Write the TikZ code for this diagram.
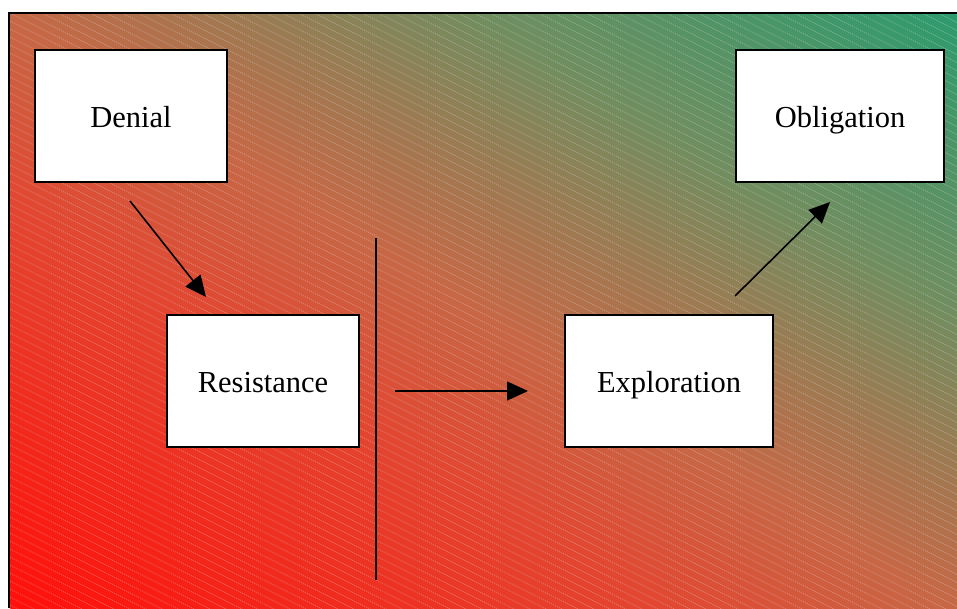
\documentclass[tikz,border=0pt]{standalone}
\usepackage{fontspec}
\setmainfont{Liberation Serif}
\usetikzlibrary{arrows.meta}
\definecolor{bgred}{RGB}{255,15,10}
\definecolor{bgrtwo}{RGB}{225,72,50}
\definecolor{bgmid}{RGB}{198,104,70}
\definecolor{bgolive}{RGB}{112,142,96}
\definecolor{bggreen}{RGB}{45,155,110}
\pgfdeclarehorizontalshading{bgdiag}{100bp}{color(0bp)=(bgred); color(25bp)=(bgred); color(42.5bp)=(bgrtwo); color(50bp)=(bgmid); color(62.5bp)=(bgolive); color(75bp)=(bggreen); color(100bp)=(bggreen)}
\begin{document}
\begin{tikzpicture}[x=1pt,y=-1pt,
  box/.style={draw=black, line width=1.3pt, fill=white, minimum height=132pt, inner sep=0pt, text height=26pt, text depth=4pt, font=\fontsize{30.5}{37}\selectfont},
  conn/.style={line width=1.6pt, -{Triangle[length=21pt,width=19pt]}},
  divider/.style={line width=1.6pt},
  hatch/.style={white, opacity=0.28, line width=0.7pt, dash pattern=on 1.2pt off 1pt}]
\useasboundingbox (0,0) rectangle (957,608);
% background
\begin{scope}
\clip (9,13) rectangle (957,608);
\begin{scope}[transform canvas={shift={(483,310.5)}, rotate=57.89}]
\shade[shading=bgdiag] (-503.7,-600) rectangle (503.7,600);
\end{scope}
\foreach \i in {-62,...,80} \draw[hatch] (0,\i*8) -- ++(1000,500);
\end{scope}
\draw[line width=2pt] (9,608) -- (9,13) -- (957,13);
% boxes
\node[box, minimum width=192pt] (denial) at (131,116) {Denial};
\node[box, minimum width=208pt] (obligation) at (840,116) {Obligation};
\node[box, minimum width=192pt] (resistance) at (263,381) {Resistance};
\node[box, minimum width=208pt] (exploration) at (669,381) {Exploration};
% connectors
\coordinate (a1s) at (130,201);
\coordinate (a1e) at (206,297);
\coordinate (a2s) at (395,391);
\coordinate (a2e) at (528,391);
\coordinate (a3s) at (735,296);
\coordinate (a3e) at (830,202);
\coordinate (vtop) at (376,238);
\coordinate (vbot) at (376,580);
\draw[conn] (a1s) -- (a1e);
\draw[conn] (a2s) -- (a2e);
\draw[conn] (a3s) -- (a3e);
\draw[divider] (vtop) -- (vbot);
\end{tikzpicture}
\end{document}
